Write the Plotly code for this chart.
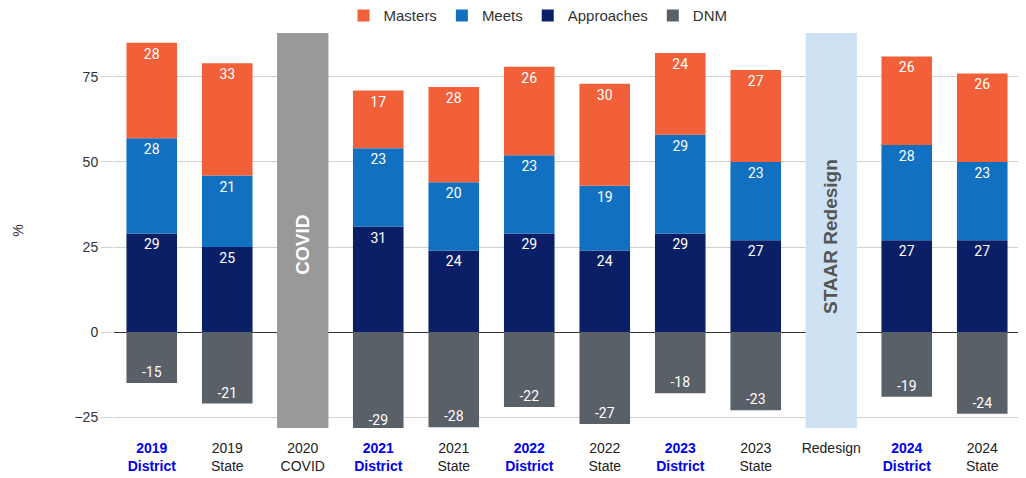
import plotly.graph_objects as go

categories = ["2019 District", "2019 State", "2020 COVID", "2021 District", "2021 State",
              "2022 District", "2022 State", "2023 District", "2023 State", "Redesign",
              "2024 District", "2024 State"]
approaches = [29, 25, None, 31, 24, 29, 24, 29, 27, None, 27, 27]
meets = [28, 21, None, 23, 20, 23, 19, 29, 23, None, 28, 23]
masters = [28, 33, None, 17, 28, 26, 30, 24, 27, None, 26, 26]
dnm = [-15, -21, None, -29, -28, -22, -27, -18, -23, None, -19, -24]
y_ticks = [-25, 0, 25, 50, 75]

# tick labels: District bold blue, others plain
tick_text = []
for c in categories:
    if c.endswith("District"):
        yr = c.split()[0]
        tick_text.append(f"<span style='color:#0000ee'><b>{yr}<br>District</b></span>")
    elif c == "Redesign":
        tick_text.append("Redesign<br> ")
    else:
        a, b = c.split()
        tick_text.append(f"{a}<br>{b}")

series = [
    ("Approaches", approaches, "#0b1f66", 3),
    ("Meets", meets, "#1170c0", 2),
    ("Masters", masters, "#f2603a", 1),
    ("DNM", dnm, "#5a6067", 4),
]

fig = go.Figure()
for name, vals, color, rank in series:
    fig.add_trace(go.Bar(
        x=categories, y=vals, name=name,
        marker=dict(color=color, line=dict(width=0)),
        text=[("" if v is None else str(v)) for v in vals],
        textposition="inside", insidetextanchor="end",
        textfont=dict(color="white", size=14, family="Roboto"),
        legendrank=rank,
    ))

y_min, y_max = -28.2, 87.9

# event boxes
boxes = [("2020 COVID", "COVID", "#999999", "white", 25.6),
         ("Redesign", "STAAR Redesign", "#cfe2f3", "#555555", 28)]
for cat, label, fill, tcolor, ymid in boxes:
    i = categories.index(cat)
    fig.add_shape(type="rect", xref="x", yref="y", x0=i - 0.34, x1=i + 0.34,
                  y0=y_min, y1=y_max, fillcolor=fill, line=dict(width=0), layer="above")
    fig.add_annotation(x=cat, y=ymid, text=f"<b>{label}</b>", textangle=-90,
                       showarrow=False, font=dict(size=19, color=tcolor, family="Arial"))

fig.update_layout(
    width=1026, height=478,
    barmode="relative", bargap=0.33,
    plot_bgcolor="white", paper_bgcolor="white",
    margin=dict(l=106, r=14, t=25, b=58, autoexpand=False),
    font=dict(family="Arial", size=14, color="#222222"),
    legend=dict(orientation="h", x=0.5166, xref="container", xanchor="center",
                y=0.984, yref="container", yanchor="middle",
                font=dict(size=15, color="#333333"), itemwidth=30),
    showlegend=True,
)
fig.update_xaxes(tickvals=categories, ticktext=tick_text, tickfont=dict(size=14, color="#222222"),
                 showgrid=False, ticks="", ticklabelstandoff=10)
fig.update_yaxes(range=[y_min, y_max], tickvals=y_ticks, showgrid=True, gridcolor="#d0d0d0",
                 zeroline=True, zerolinecolor="#333333", zerolinewidth=1,
                 ticks="outside", ticklen=12, tickcolor="#d0d0d0",
                 tickfont=dict(size=14, color="#333333"),
                 title=dict(text="%", standoff=47, font=dict(size=14, color="#333333")))

fig.write_html("out.html")
